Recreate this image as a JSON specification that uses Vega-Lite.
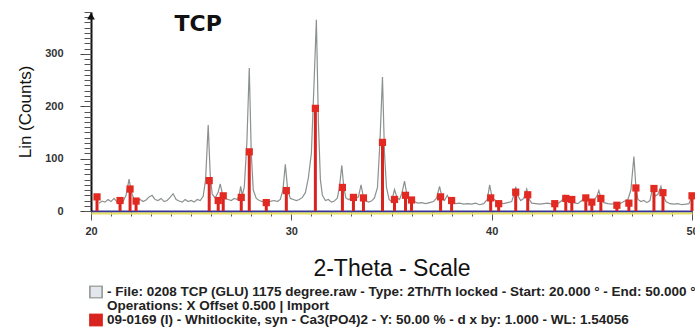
{
  "$schema": "https://vega.github.io/schema/vega-lite/v6.json",
  "width": 601,
  "height": 199,
  "autosize": {"type": "none"},
  "padding": {"left": 91, "top": 12, "right": 3, "bottom": 125},
  "background": "white",
  "config": {"view": {"stroke": null}},
  "datasets": {
    "scan": [
      {"theta": 20.4, "counts": 15}, {"theta": 20.55, "counts": 19}, {"theta": 20.7, "counts": 17}, {"theta": 20.85, "counts": 22},
      {"theta": 21.0, "counts": 18}, {"theta": 21.15, "counts": 24}, {"theta": 21.3, "counts": 17}, {"theta": 21.45, "counts": 20},
      {"theta": 21.6, "counts": 18}, {"theta": 21.75, "counts": 30}, {"theta": 21.9, "counts": 61}, {"theta": 22.0, "counts": 38},
      {"theta": 22.15, "counts": 22}, {"theta": 22.3, "counts": 19}, {"theta": 22.45, "counts": 22}, {"theta": 22.6, "counts": 18},
      {"theta": 22.75, "counts": 21}, {"theta": 22.9, "counts": 27}, {"theta": 23.05, "counts": 30}, {"theta": 23.2, "counts": 22},
      {"theta": 23.35, "counts": 20}, {"theta": 23.5, "counts": 24}, {"theta": 23.65, "counts": 18}, {"theta": 23.8, "counts": 20},
      {"theta": 23.95, "counts": 26}, {"theta": 24.1, "counts": 33}, {"theta": 24.25, "counts": 22}, {"theta": 24.4, "counts": 19},
      {"theta": 24.55, "counts": 17}, {"theta": 24.7, "counts": 22}, {"theta": 24.85, "counts": 18}, {"theta": 25.0, "counts": 20},
      {"theta": 25.15, "counts": 17}, {"theta": 25.3, "counts": 22}, {"theta": 25.45, "counts": 20}, {"theta": 25.6, "counts": 28},
      {"theta": 25.72, "counts": 60}, {"theta": 25.85, "counts": 164}, {"theta": 25.95, "counts": 70}, {"theta": 26.05, "counts": 32},
      {"theta": 26.2, "counts": 25}, {"theta": 26.35, "counts": 36}, {"theta": 26.45, "counts": 52}, {"theta": 26.55, "counts": 34},
      {"theta": 26.7, "counts": 24}, {"theta": 26.85, "counts": 22}, {"theta": 27.0, "counts": 20}, {"theta": 27.15, "counts": 24},
      {"theta": 27.3, "counts": 22}, {"theta": 27.4, "counts": 30}, {"theta": 27.47, "counts": 47}, {"theta": 27.55, "counts": 30},
      {"theta": 27.65, "counts": 45}, {"theta": 27.78, "counts": 130}, {"theta": 27.9, "counts": 273}, {"theta": 28.0, "counts": 110},
      {"theta": 28.1, "counts": 40}, {"theta": 28.25, "counts": 24}, {"theta": 28.4, "counts": 20}, {"theta": 28.55, "counts": 18},
      {"theta": 28.7, "counts": 22}, {"theta": 28.85, "counts": 17}, {"theta": 29.0, "counts": 19}, {"theta": 29.15, "counts": 20},
      {"theta": 29.3, "counts": 18}, {"theta": 29.45, "counts": 22}, {"theta": 29.58, "counts": 40}, {"theta": 29.7, "counts": 89},
      {"theta": 29.82, "counts": 40}, {"theta": 29.95, "counts": 24}, {"theta": 30.1, "counts": 22}, {"theta": 30.25, "counts": 20},
      {"theta": 30.4, "counts": 22}, {"theta": 30.55, "counts": 26}, {"theta": 30.7, "counts": 35}, {"theta": 30.85, "counts": 63},
      {"theta": 31.0, "counts": 110}, {"theta": 31.12, "counts": 230}, {"theta": 31.25, "counts": 365}, {"theta": 31.35, "counts": 170},
      {"theta": 31.45, "counts": 60}, {"theta": 31.55, "counts": 30}, {"theta": 31.7, "counts": 20}, {"theta": 31.85, "counts": 22},
      {"theta": 32.0, "counts": 17}, {"theta": 32.15, "counts": 19}, {"theta": 32.3, "counts": 25}, {"theta": 32.4, "counts": 45},
      {"theta": 32.52, "counts": 87}, {"theta": 32.62, "counts": 45}, {"theta": 32.72, "counts": 25}, {"theta": 32.85, "counts": 22},
      {"theta": 33.0, "counts": 24}, {"theta": 33.1, "counts": 30}, {"theta": 33.2, "counts": 24}, {"theta": 33.35, "counts": 27},
      {"theta": 33.48, "counts": 50}, {"theta": 33.58, "counts": 30}, {"theta": 33.7, "counts": 20}, {"theta": 33.85, "counts": 17},
      {"theta": 34.0, "counts": 19}, {"theta": 34.15, "counts": 25}, {"theta": 34.3, "counts": 45}, {"theta": 34.42, "counts": 130},
      {"theta": 34.55, "counts": 256}, {"theta": 34.65, "counts": 110}, {"theta": 34.75, "counts": 45}, {"theta": 34.88, "counts": 22},
      {"theta": 35.0, "counts": 18}, {"theta": 35.15, "counts": 41}, {"theta": 35.28, "counts": 25}, {"theta": 35.4, "counts": 22},
      {"theta": 35.52, "counts": 34}, {"theta": 35.65, "counts": 57}, {"theta": 35.75, "counts": 35}, {"theta": 35.88, "counts": 22},
      {"theta": 36.0, "counts": 24}, {"theta": 36.15, "counts": 18}, {"theta": 36.3, "counts": 15}, {"theta": 36.5, "counts": 16},
      {"theta": 36.7, "counts": 14}, {"theta": 36.9, "counts": 16}, {"theta": 37.1, "counts": 18}, {"theta": 37.25, "counts": 25},
      {"theta": 37.4, "counts": 47}, {"theta": 37.52, "counts": 26}, {"theta": 37.65, "counts": 20}, {"theta": 37.78, "counts": 30},
      {"theta": 37.88, "counts": 22}, {"theta": 38.0, "counts": 17}, {"theta": 38.2, "counts": 14}, {"theta": 38.4, "counts": 15},
      {"theta": 38.6, "counts": 13}, {"theta": 38.8, "counts": 14}, {"theta": 39.0, "counts": 13}, {"theta": 39.2, "counts": 15},
      {"theta": 39.4, "counts": 12}, {"theta": 39.6, "counts": 14}, {"theta": 39.78, "counts": 22}, {"theta": 39.9, "counts": 50},
      {"theta": 40.0, "counts": 30}, {"theta": 40.12, "counts": 22}, {"theta": 40.3, "counts": 18}, {"theta": 40.45, "counts": 15},
      {"theta": 40.6, "counts": 14}, {"theta": 40.8, "counts": 16}, {"theta": 41.0, "counts": 18}, {"theta": 41.1, "counts": 30},
      {"theta": 41.2, "counts": 46}, {"theta": 41.32, "counts": 28}, {"theta": 41.45, "counts": 20}, {"theta": 41.6, "counts": 24},
      {"theta": 41.75, "counts": 42}, {"theta": 41.88, "counts": 22}, {"theta": 42.0, "counts": 15}, {"theta": 42.2, "counts": 14},
      {"theta": 42.4, "counts": 13}, {"theta": 42.6, "counts": 14}, {"theta": 42.8, "counts": 15}, {"theta": 43.0, "counts": 13},
      {"theta": 43.15, "counts": 18}, {"theta": 43.3, "counts": 14}, {"theta": 43.5, "counts": 20}, {"theta": 43.65, "counts": 30},
      {"theta": 43.8, "counts": 28}, {"theta": 43.95, "counts": 22}, {"theta": 44.1, "counts": 16}, {"theta": 44.3, "counts": 14},
      {"theta": 44.5, "counts": 20}, {"theta": 44.65, "counts": 28}, {"theta": 44.8, "counts": 25}, {"theta": 44.95, "counts": 18},
      {"theta": 45.1, "counts": 20}, {"theta": 45.25, "counts": 28}, {"theta": 45.35, "counts": 39}, {"theta": 45.45, "counts": 25},
      {"theta": 45.6, "counts": 16}, {"theta": 45.8, "counts": 14}, {"theta": 46.0, "counts": 13}, {"theta": 46.2, "counts": 16},
      {"theta": 46.4, "counts": 14}, {"theta": 46.6, "counts": 18}, {"theta": 46.8, "counts": 22}, {"theta": 46.95, "counts": 40},
      {"theta": 47.1, "counts": 104}, {"theta": 47.2, "counts": 45}, {"theta": 47.3, "counts": 22}, {"theta": 47.45, "counts": 18},
      {"theta": 47.6, "counts": 20}, {"theta": 47.75, "counts": 16}, {"theta": 47.9, "counts": 20}, {"theta": 48.05, "counts": 47},
      {"theta": 48.15, "counts": 28}, {"theta": 48.3, "counts": 32}, {"theta": 48.45, "counts": 47}, {"theta": 48.55, "counts": 30},
      {"theta": 48.7, "counts": 18}, {"theta": 48.9, "counts": 14}, {"theta": 49.1, "counts": 13}, {"theta": 49.3, "counts": 14},
      {"theta": 49.5, "counts": 12}, {"theta": 49.7, "counts": 13}, {"theta": 49.85, "counts": 14}, {"theta": 50.0, "counts": 29}
    ],
    "ref": [
      {"theta": 20.3, "intensity": 27}, {"theta": 21.45, "intensity": 20}, {"theta": 21.95, "intensity": 42}, {"theta": 22.25, "intensity": 19},
      {"theta": 25.9, "intensity": 58}, {"theta": 26.35, "intensity": 20}, {"theta": 26.6, "intensity": 29}, {"theta": 27.5, "intensity": 26},
      {"theta": 27.9, "intensity": 113}, {"theta": 28.75, "intensity": 16}, {"theta": 29.75, "intensity": 39}, {"theta": 31.2, "intensity": 196},
      {"theta": 32.55, "intensity": 45}, {"theta": 33.1, "intensity": 26}, {"theta": 33.6, "intensity": 25}, {"theta": 34.55, "intensity": 131},
      {"theta": 35.15, "intensity": 22}, {"theta": 35.7, "intensity": 30}, {"theta": 36.0, "intensity": 21}, {"theta": 37.45, "intensity": 27},
      {"theta": 38.0, "intensity": 20}, {"theta": 39.95, "intensity": 25}, {"theta": 40.35, "intensity": 14}, {"theta": 41.2, "intensity": 36},
      {"theta": 41.8, "intensity": 31}, {"theta": 43.15, "intensity": 14}, {"theta": 43.7, "intensity": 24}, {"theta": 44.0, "intensity": 22},
      {"theta": 44.7, "intensity": 25}, {"theta": 45.0, "intensity": 17}, {"theta": 45.45, "intensity": 24}, {"theta": 46.25, "intensity": 11},
      {"theta": 46.85, "intensity": 15}, {"theta": 47.2, "intensity": 44}, {"theta": 48.1, "intensity": 43}, {"theta": 48.55, "intensity": 35},
      {"theta": 50.0, "intensity": 29}
    ],
    "mark": [{"label": "TCP"}]
  },
  "layer": [
    {
      "data": {"name": "scan"},
      "mark": {"type": "line", "strokeWidth": 1.2, "interpolate": "linear"},
      "encoding": {
        "x": {
          "field": "theta", "type": "quantitative",
          "scale": {"domain": [20, 50], "nice": false, "zero": false},
          "axis": {
            "orient": "bottom", "values": [20, 30, 40, 50], "grid": false,
            "title": "2-Theta - Scale", "titleFont": "Liberation Sans", "titleFontSize": 23, "titleFontWeight": "normal", "titleColor": "#111111", "titlePadding": 21,
            "labelFont": "Liberation Sans", "labelFontSize": 11, "labelFontWeight": "bold", "labelColor": "#333333", "labelPadding": 5,
            "labelFlush": false, "labelOverlap": false,
            "tickSize": 9, "tickColor": "#555555", "tickWidth": 1,
            "domainColor": "#34349a", "domainWidth": 2
          }
        },
        "y": {
          "field": "counts", "type": "quantitative",
          "scale": {"domain": [0, 380], "nice": false},
          "axis": {
            "orient": "left", "values": [0, 100, 200, 300], "grid": false,
            "title": "Lin (Counts)", "titleFont": "Liberation Sans", "titleFontSize": 17, "titleFontWeight": "normal", "titleColor": "#111111", "titlePadding": 10,
            "labelFont": "Liberation Sans", "labelFontSize": 11, "labelFontWeight": "bold", "labelColor": "#333333", "labelPadding": 17,
            "labelFlush": false, "labelOverlap": false,
            "tickSize": 11, "tickColor": "#444444", "tickWidth": 1,
            "domainColor": "#111111", "domainWidth": 2
          }
        },
        "color": {
          "datum": "file",
          "scale": {"domain": ["file", "ops", "ref"], "range": ["#8b918e", "#ffffff", "#d9231e"]},
          "legend": {
            "orient": "none", "legendX": -2, "legendY": 273.5, "direction": "vertical", "title": null,
            "padding": 0, "rowPadding": 0, "clipHeight": 13, "symbolType": "square", "symbolSize": 150, "symbolStrokeWidth": 1.5,
            "labelFont": "Liberation Sans", "labelFontSize": 13.5, "labelFontWeight": "bold", "labelColor": "#222222", "labelOffset": 4, "labelLimit": 0,
            "labelExpr": "datum.value === 'file' ? '- File: 0208 TCP (GLU) 1175 degree.raw - Type: 2Th/Th locked - Start: 20.000 ° - End: 50.000 °' : datum.value === 'ops' ? 'Operations: X Offset 0.500 | Import' : '09-0169 (I) - Whitlockite, syn - Ca3(PO4)2 - Y: 50.00 % - d x by: 1.000 - WL: 1.54056'",
            "encode": {
              "symbols": {
                "update": {
                  "fill": {"signal": "datum.value === 'file' ? '#e4e6ee' : datum.value === 'ref' ? '#d9231e' : 'transparent'"},
                  "stroke": {"signal": "datum.value === 'file' ? '#333333' : datum.value === 'ref' ? '#f08c8c' : 'transparent'"},
                  "strokeWidth": {"value": 1.5},
                  "opacity": {"value": 1},
                  "fillOpacity": {"value": 1}
                }
              }
            }
          }
        }
      }
    },
    {
      "data": {"name": "ref"},
      "mark": {"type": "rule", "strokeWidth": 3},
      "encoding": {
        "x": {
          "field": "theta", "type": "quantitative",
          "axis": {
            "orient": "bottom", "values": [20,21,22,23,24,25,26,27,28,29,30,31,32,33,34,35,36,37,38,39,40,41,42,43,44,45,46,47,48,49,50],
            "labels": false, "domain": false, "grid": false, "title": null,
            "tickSize": 5, "tickColor": "#555555", "tickWidth": 1
          }
        },
        "y": {
          "field": "intensity", "type": "quantitative",
          "axis": {
            "orient": "left", "values": [0,10,20,30,40,50,60,70,80,90,100,110,120,130,140,150,160,170,180,190,200,210,220,230,240,250,260,270,280,290,300,310,320,330,340,350,360,370,380],
            "labels": false, "domain": false, "grid": false, "title": null,
            "tickSize": 7, "tickColor": "#555555", "tickWidth": 1
          }
        },
        "y2": {"datum": 0},
        "color": {"datum": "ref"}
      }
    },
    {
      "data": {"name": "ref"},
      "mark": {"type": "square", "size": 52, "filled": true, "opacity": 1, "color": "#e22a22"},
      "encoding": {
        "x": {
          "field": "theta", "type": "quantitative",
          "axis": {
            "orient": "bottom", "offset": 2, "labels": false, "ticks": false, "grid": false, "title": null,
            "domainColor": "#e8e060", "domainWidth": 2
          }
        },
        "y": {"field": "intensity", "type": "quantitative", "axis": null}
      }
    },
    {
      "data": {"name": "mark"},
      "mark": {"type": "point", "shape": "triangle-up", "size": 60, "filled": true, "color": "#111111", "opacity": 1},
      "encoding": {
        "x": {"datum": 20, "axis": null},
        "y": {"datum": 372, "axis": null}
      }
    },
    {
      "data": {"name": "mark"},
      "mark": {"type": "text", "font": "DejaVu Sans", "fontWeight": "bold", "fontSize": 22, "align": "center", "baseline": "middle", "color": "#111111"},
      "encoding": {
        "text": {"field": "label"},
        "x": {"datum": 25.35, "axis": null},
        "y": {"datum": 358, "axis": null}
      }
    }
  ],
  "resolve": {"axis": {"x": "independent", "y": "independent"}}
}
